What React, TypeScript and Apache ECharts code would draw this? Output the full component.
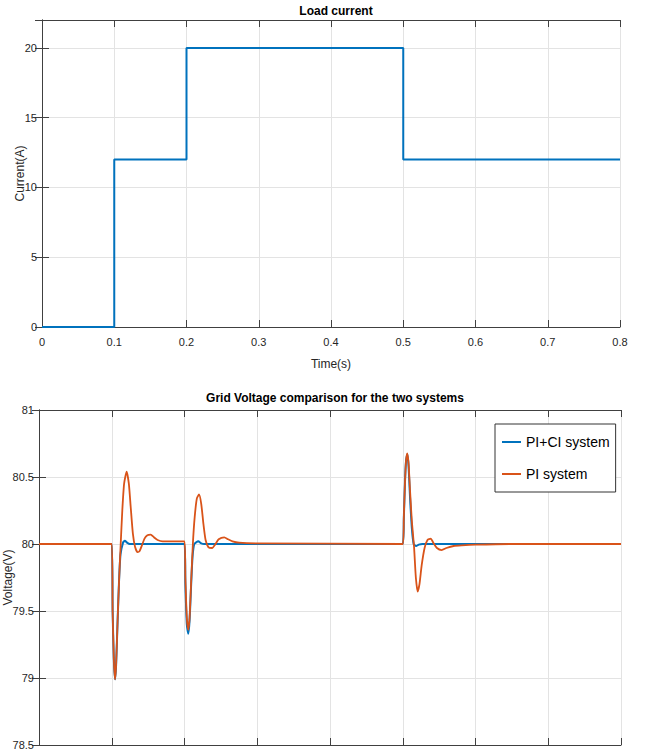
import React, { useEffect, useRef } from "react";
import * as echarts from "echarts";

const FONT = "'Liberation Sans', Arial, Helvetica, sans-serif";

const timeTicks = [0, 0.1, 0.2, 0.3, 0.4, 0.5, 0.6, 0.7, 0.8];

// Load current (step profile)
const loadTime = [0, 0.1, 0.1, 0.2, 0.2, 0.5, 0.5, 0.8];
const loadCurrent = [0, 0, 12, 12, 20, 20, 12, 12];

// PI+CI system grid voltage
const piciTime = [
  0, 0.1, 0.1012, 0.1028, 0.1045, 0.106, 0.108, 0.11, 0.112, 0.1155, 0.118, 0.121, 0.125,
  0.2, 0.2012, 0.2032, 0.2052, 0.207, 0.209, 0.211, 0.2135, 0.219, 0.223, 0.227,
  0.5, 0.5015, 0.503, 0.5045, 0.5063, 0.508, 0.51, 0.5125, 0.515, 0.5184, 0.522, 0.527, 0.8,
];
const piciVoltage = [
  80, 80, 79.5, 79.15, 78.99, 79.1, 79.42, 79.72, 79.92, 80.01, 80.025, 80.01, 80.0,
  80.0, 79.7, 79.4, 79.33, 79.43, 79.68, 79.9, 80.0, 80.02, 80.005, 80.0,
  80, 80.2, 80.45, 80.62, 80.67, 80.58, 80.35, 80.12, 80.0, 79.985, 79.995, 80.0, 80,
];

// PI system grid voltage
const piTime = [
  0, 0.1, 0.1012, 0.1028, 0.1045, 0.106, 0.108, 0.11, 0.1123, 0.1145, 0.117, 0.1205, 0.1235,
  0.126, 0.129, 0.132, 0.1355, 0.138, 0.1415, 0.145, 0.149, 0.1535, 0.158, 0.163, 0.17,
  0.2, 0.2012, 0.2032, 0.2052, 0.207, 0.209, 0.2115, 0.214, 0.217, 0.22, 0.223, 0.226, 0.229,
  0.233, 0.2382, 0.242, 0.247, 0.2547, 0.26, 0.266, 0.275, 0.3,
  0.5, 0.5015, 0.503, 0.5045, 0.5063, 0.508, 0.51, 0.5125, 0.5155, 0.518, 0.5205, 0.523,
  0.526, 0.53, 0.534, 0.5384, 0.542, 0.547, 0.5535, 0.56, 0.57, 0.581, 0.6, 0.65, 0.8,
];
const piVoltage = [
  80, 80, 79.5, 79.15, 78.99, 79.1, 79.42, 79.72, 80.0, 80.25, 80.45, 80.54, 80.45,
  80.28, 80.08, 79.98, 79.94, 79.945, 79.99, 80.04, 80.065, 80.07, 80.05, 80.03, 80.02,
  80.02, 79.75, 79.45, 79.36, 79.45, 79.7, 80.0, 80.2, 80.34, 80.37, 80.3, 80.15, 80.03,
  79.975, 79.97, 79.995, 80.035, 80.05, 80.035, 80.02, 80.01, 80.005,
  80.0, 80.2, 80.45, 80.62, 80.677, 80.6, 80.4, 80.17, 79.98, 79.75, 79.644, 79.7,
  79.84, 79.97, 80.03, 80.04, 80.01, 79.97, 79.955, 79.97, 79.985, 79.99, 79.995, 80, 80,
];

const seriesNames = ["PI+CI system", "PI system"];
const BLUE = "#0072BD";
const ORANGE = "#D95319";

const zip = (xs: number[], ys: number[]) => xs.map((x, i) => [x, ys[i]]);

const AX = "#404040";
const GRIDC = "#e3e3e3";

function xAxisBase(gridIndex: number, showLabels: boolean, name?: string) {
  return {
    type: "value",
    gridIndex,
    min: timeTicks[0],
    max: timeTicks[timeTicks.length - 1],
    interval: 0.1,
    name,
    nameLocation: "middle",
    nameGap: 31,
    nameMoveOverlap: false,
    nameTextStyle: { fontFamily: FONT, fontSize: 12, color: "#262626" },
    axisLine: { show: true, onZero: false, lineStyle: { color: AX, width: 1 } },
    axisTick: { show: true, inside: true, length: 7, lineStyle: { color: AX } },
    axisLabel: {
      show: showLabels,
      margin: 9,
      fontFamily: FONT,
      fontSize: 11,
      color: "#262626",
      formatter: (v: number) => (v === 0 ? "0" : String(+v.toFixed(1))),
    },
    splitLine: { show: true, lineStyle: { color: GRIDC, width: 1 } },
  };
}

function xAxisMirror(gridIndex: number) {
  return {
    type: "value",
    gridIndex,
    position: "top",
    min: timeTicks[0],
    max: timeTicks[timeTicks.length - 1],
    interval: 0.1,
    axisLine: { show: true, onZero: false, lineStyle: { color: AX, width: 1 } },
    axisTick: { show: true, inside: true, length: 7, lineStyle: { color: AX } },
    axisLabel: { show: false },
    splitLine: { show: false },
  };
}

export default function App() {
  const ref = useRef<HTMLDivElement>(null);
  useEffect(() => {
    document.body.style.margin = "0";
    if (!ref.current) return;
    const chart = echarts.init(ref.current, undefined, { renderer: "svg" });
    chart.setOption({
      animation: false,
      backgroundColor: "#fff",
      textStyle: { fontFamily: FONT },
      title: [
        {
          text: "Load current",
          left: 331,
          top: 0,
          textAlign: "center",
          textStyle: { fontFamily: FONT, fontSize: 12, fontWeight: "bold", color: "#000" },
        },
        {
          text: "Grid Voltage comparison for the two systems",
          left: 330,
          top: 387,
          textAlign: "center",
          textStyle: { fontFamily: FONT, fontSize: 12, fontWeight: "bold", color: "#000" },
        },
      ],
      legend: {
        data: seriesNames,
        orient: "vertical",
        left: 495,
        top: 424,
        padding: [9, 6, 9, 7],
        itemGap: 14,
        itemWidth: 19,
        itemHeight: 2,
        icon: "rect",
        backgroundColor: "#fff",
        borderColor: "#333",
        borderWidth: 1,
        textStyle: { fontFamily: FONT, fontSize: 14, color: "#000", lineHeight: 18 },
      },
      grid: [
        { left: 42, right: 29, top: 20, height: 307, containLabel: false, outerBoundsMode: "none" },
        { left: 39, right: 28, top: 410, height: 335, containLabel: false, outerBoundsMode: "none" },
      ],
      xAxis: [
        xAxisBase(0, true, "Time(s)"),
        xAxisMirror(0),
        xAxisBase(1, false),
        xAxisMirror(1),
      ],
      yAxis: [
        {
          type: "value",
          gridIndex: 0,
          min: 0,
          max: 22,
          interval: 5,
          name: "Current(A)",
          nameLocation: "middle",
          nameGap: 16,
          nameMoveOverlap: false,
          nameTextStyle: { fontFamily: FONT, fontSize: 12, color: "#262626" },
          axisLine: { show: true, lineStyle: { color: AX } },
          axisTick: { show: true, inside: true, length: 7, lineStyle: { color: AX } },
          axisLabel: { margin: 5, fontFamily: FONT, fontSize: 11, color: "#262626", showMaxLabel: false },
          splitLine: { show: true, lineStyle: { color: GRIDC } },
        },
        {
          type: "value",
          gridIndex: 0,
          position: "right",
          min: 0,
          max: 22,
          interval: 5,
          axisLine: { show: true, lineStyle: { color: AX } },
          axisTick: { show: true, inside: true, length: 7, lineStyle: { color: AX } },
          axisLabel: { show: false },
          splitLine: { show: false },
        },
        {
          type: "value",
          gridIndex: 1,
          min: 78.5,
          max: 81,
          interval: 0.5,
          name: "Voltage(V)",
          nameLocation: "middle",
          nameGap: 25,
          nameMoveOverlap: false,
          nameTextStyle: { fontFamily: FONT, fontSize: 12, color: "#262626" },
          axisLine: { show: true, lineStyle: { color: AX } },
          axisTick: { show: true, inside: true, length: 7, lineStyle: { color: AX } },
          axisLabel: { margin: 5, fontFamily: FONT, fontSize: 11, color: "#262626" },
          splitLine: { show: true, lineStyle: { color: GRIDC } },
        },
        {
          type: "value",
          gridIndex: 1,
          position: "right",
          min: 78.5,
          max: 81,
          interval: 0.5,
          axisLine: { show: true, lineStyle: { color: AX } },
          axisTick: { show: true, inside: true, length: 7, lineStyle: { color: AX } },
          axisLabel: { show: false },
          splitLine: { show: false },
        },
      ],
      series: [
        {
          name: "Load current",
          type: "line",
          xAxisIndex: 0,
          yAxisIndex: 0,
          data: zip(loadTime, loadCurrent),
          showSymbol: false,
          lineStyle: { color: BLUE, width: 2 },
          itemStyle: { color: BLUE },
        },
        {
          name: seriesNames[0],
          type: "line",
          xAxisIndex: 2,
          yAxisIndex: 2,
          data: zip(piciTime, piciVoltage),
          showSymbol: false,
          smooth: 0.2,
          lineStyle: { color: BLUE, width: 2 },
          itemStyle: { color: BLUE },
          z: 2,
        },
        {
          name: seriesNames[1],
          type: "line",
          xAxisIndex: 2,
          yAxisIndex: 2,
          data: zip(piTime, piVoltage),
          showSymbol: false,
          smooth: 0.2,
          lineStyle: { color: ORANGE, width: 1.8 },
          itemStyle: { color: ORANGE },
          z: 3,
        },
      ],
    });
    return () => chart.dispose();
  }, []);
  return <div ref={ref} style={{ width: 649, height: 755 }} />;
}
